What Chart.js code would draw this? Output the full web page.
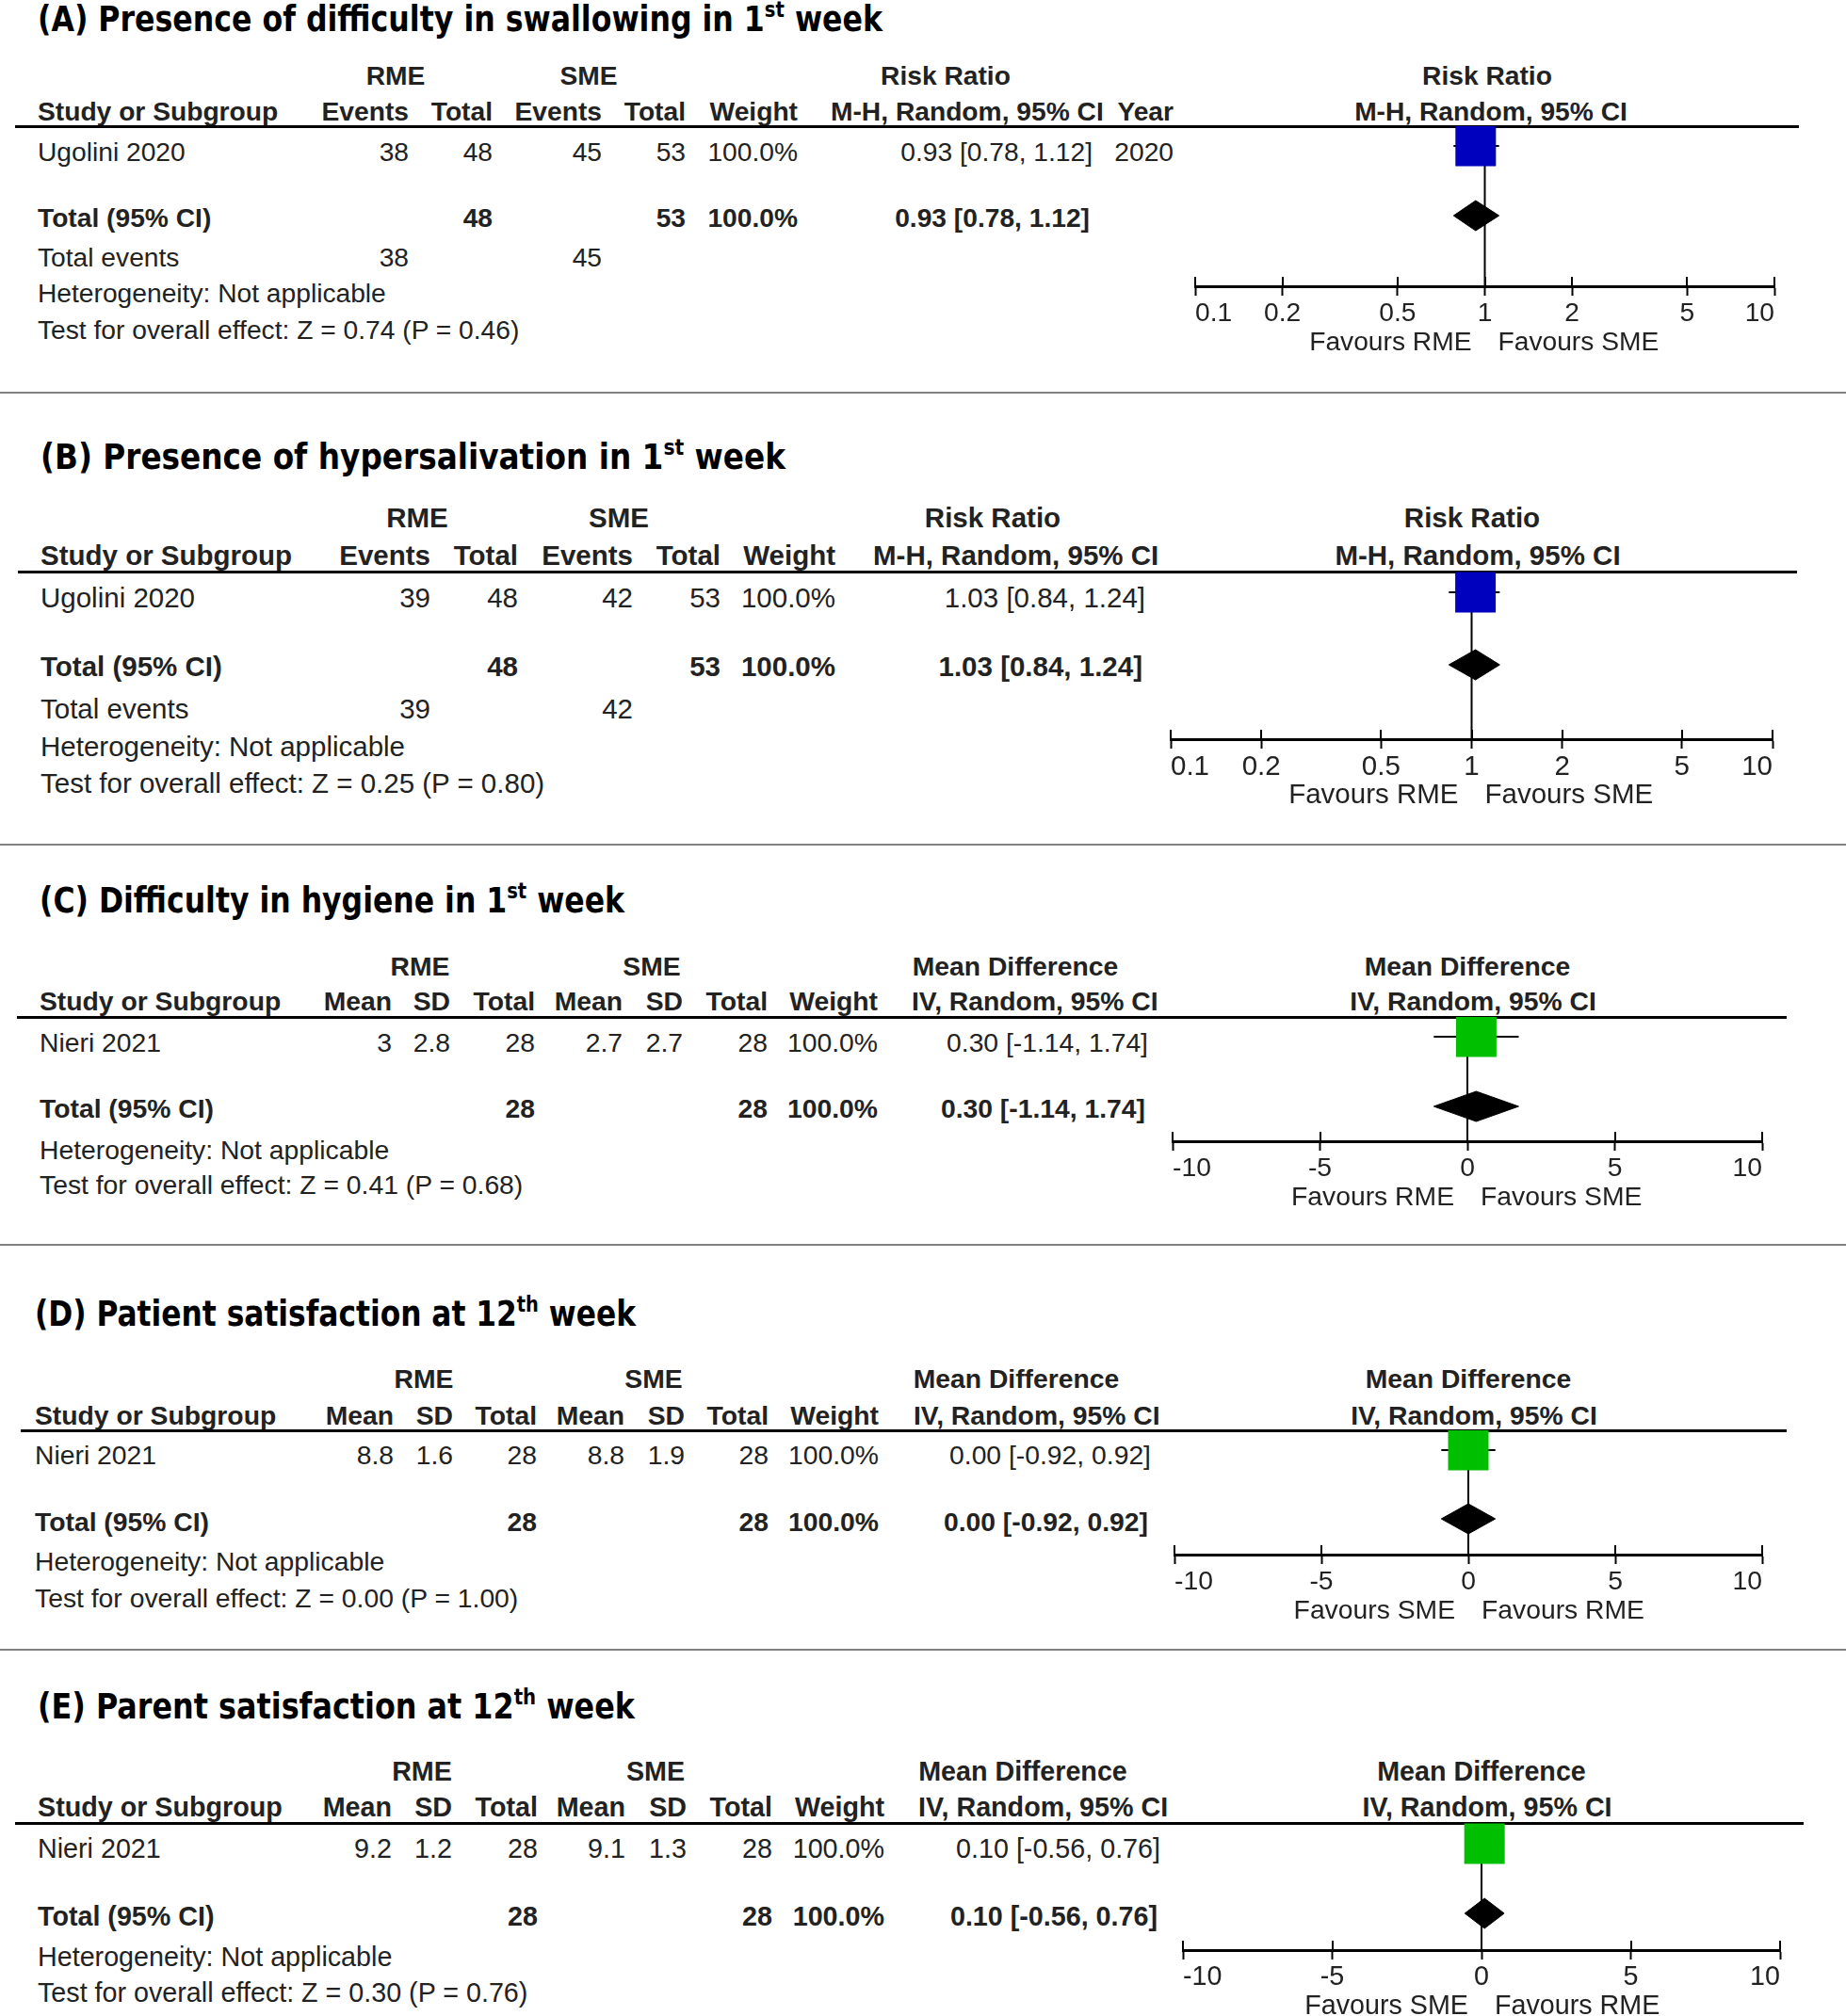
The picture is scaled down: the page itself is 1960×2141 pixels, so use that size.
<!DOCTYPE html>
<html>
<head>
<meta charset="utf-8">
<script src="https://cdn.jsdelivr.net/npm/chart.js@4.4.1/dist/chart.umd.min.js"></script>
<style>
html, body { margin: 0; padding: 0; background: #fff; }
#page { position: relative; width: 1960px; height: 2141px; overflow: hidden; font-family: "Liberation Sans", Arial, sans-serif; color: #222; }
.t { position: absolute; white-space: nowrap; height: 40px; line-height: 40px; }
.ttl { position: absolute; white-space: nowrap; height: 50px; line-height: 50px; font-family: "Liberation Sans Narrow", "DejaVu Sans Condensed", sans-serif; font-weight: bold; color: #000; transform-origin: 0 50%; }
.ttl sup { font-size: 62%; vertical-align: 0.65em; line-height: 0; }
.hl { position: absolute; height: 3px; background: #000; }
.sep { position: absolute; left: 0; width: 1960px; height: 2px; background: #808080; }
canvas { position: absolute; }
</style>
</head>
<body>
<div id="page"></div>
<script>
// titles: text, superscript, tail
const titleMain = ["(A) Presence of difficulty in swallowing in 1", "(B) Presence of hypersalivation in 1", "(C) Difficulty in hygiene in 1", "(D) Patient satisfaction at 12", "(E) Parent satisfaction at 12"];
const titleSup = ["st", "st", "st", "th", "th"];
const titleEnd = [" week", " week", " week", " week", " week"];

const studyNames = ["Ugolini 2020", "Ugolini 2020", "Nieri 2021", "Nieri 2021", "Nieri 2021"];
const studyYears = ["2020", "", "", "", ""];
const rmeValues = [["38", "48"], ["39", "48"], ["3", "2.8", "28"], ["8.8", "1.6", "28"], ["9.2", "1.2", "28"]];
const smeValues = [["45", "53"], ["42", "53"], ["2.7", "2.7", "28"], ["8.8", "1.9", "28"], ["9.1", "1.3", "28"]];
const weights = [100.0, 100.0, 100.0, 100.0, 100.0];
const totalRME = [48, 48, 28, 28, 28];
const totalSME = [53, 53, 28, 28, 28];
const eventsRME = [38, 39, null, null, null];
const eventsSME = [45, 42, null, null, null];
const estimates = [0.93, 1.03, 0.30, 0.00, 0.10];
const ciLow = [0.78, 0.84, -1.14, -0.92, -0.56];
const ciHigh = [1.12, 1.24, 1.74, 0.92, 0.76];
const heterogeneity = ["Not applicable", "Not applicable", "Not applicable", "Not applicable", "Not applicable"];
const overallTests = ["Z = 0.74 (P = 0.46)", "Z = 0.25 (P = 0.80)", "Z = 0.41 (P = 0.68)", "Z = 0.00 (P = 1.00)", "Z = 0.30 (P = 0.76)"];
const measures = ["Risk Ratio", "Risk Ratio", "Mean Difference", "Mean Difference", "Mean Difference"];
const methods = ["M-H, Random, 95% CI", "M-H, Random, 95% CI", "IV, Random, 95% CI", "IV, Random, 95% CI", "IV, Random, 95% CI"];
const favoursLeft = ["Favours RME", "Favours RME", "Favours RME", "Favours SME", "Favours SME"];
const favoursRight = ["Favours SME", "Favours SME", "Favours SME", "Favours RME", "Favours RME"];
const logTicks = [0.1, 0.2, 0.5, 1, 2, 5, 10];
const linTicks = [-10, -5, 0, 5, 10];
const dichHeads = ["Events", "Total", "Events", "Total", "Weight"];
const contHeads = ["Mean", "SD", "Total", "Mean", "SD", "Total", "Weight"];
const squareColors = ["#0000bf", "#0000bf", "#00bf00", "#00bf00", "#00bf00"];

// page layout (pixels)
const layout = [
  { fs: 28.2, tx: 40, ty: 21, tw: 897, h1: 80, h2: 118, line: 134, row: 161, tot: 231, ev: 273, het: 311, test: 350,
    lx1: 16, lx2: 1910, cols: [434, 523, 639, 728, 847], est: 1160, ciHead: 882, year: 1246,
    groups: [420, 625, 1004], rh: [1579, 1583], axL: 1269, axR: 1884, axis: 304, sq: 155, dia: 229, sep: 417 },
  { fs: 29.5, tx: 43, ty: 486, tw: 791, h1: 550, h2: 590, line: 607, row: 635, tot: 708, ev: 753, het: 793, test: 832,
    lx1: 19, lx2: 1908, cols: [457, 550, 672, 765, 887], est: 1216, ciHead: 927,
    groups: [443, 657, 1054], rh: [1563, 1569], axL: 1243, axR: 1882, axis: 785, sq: 629, dia: 706, sep: 897 },
  { fs: 28.3, tx: 42, ty: 957, tw: 621, h1: 1026, h2: 1063, line: 1080, row: 1107, tot: 1177, het: 1221, test: 1258,
    lx1: 18, lx2: 1897, cols: [416, 478, 568, 661, 725, 815, 932], est: 1219, ciHead: 968,
    groups: [446, 692, 1078], rh: [1558, 1564], axL: 1245, axR: 1871, axis: 1212, sq: 1101, dia: 1175, sep: 1322 },
  { fs: 28.3, tx: 37, ty: 1396, tw: 638, h1: 1464, h2: 1503, line: 1519, row: 1545, tot: 1616, het: 1658, test: 1697,
    lx1: 22, lx2: 1897, cols: [418, 481, 570, 663, 727, 816, 933], est: 1222, ciHead: 970,
    groups: [450, 694, 1079], rh: [1559, 1565], axL: 1247, axR: 1871, axis: 1651, sq: 1540, dia: 1613, sep: 1752 },
  { fs: 28.7, tx: 40, ty: 1813, tw: 634, h1: 1881, h2: 1919, line: 1936, row: 1963, tot: 2035, het: 2078, test: 2116,
    lx1: 16, lx2: 1915, cols: [416, 480, 571, 664, 729, 820, 939], est: 1232, ciHead: 975,
    groups: [448, 696, 1086], rh: [1573, 1579], axL: 1256, axR: 1890, axis: 2071, sq: 1958, dia: 2032 }
];

const page = document.getElementById("page");

function txt(str, x, cy, align, size, bold) {
  const d = document.createElement("div");
  d.className = "t";
  d.textContent = str;
  d.style.fontSize = size + "px";
  if (bold) d.style.fontWeight = "bold";
  d.style.top = (cy - 20) + "px";
  if (align === "l") d.style.left = x + "px";
  else if (align === "r") d.style.right = (1960 - x) + "px";
  else { d.style.left = (x - 300) + "px"; d.style.width = "600px"; d.style.textAlign = "center"; }
  page.appendChild(d);
}

const fmt = (v) => v.toFixed(2);
const ciText = (i) => `${fmt(estimates[i])} [${fmt(ciLow[i])}, ${fmt(ciHigh[i])}]`;

// extra tick halves above the axis and the favours labels
const forestExtras = {
  id: "forestExtras",
  afterDraw(chart, args, o) {
    const { ctx, chartArea } = chart;
    const x = chart.scales.x;
    ctx.save();
    ctx.strokeStyle = "#000";
    ctx.lineWidth = 2;
    x.ticks.forEach((t) => {
      const px = Math.round(x.getPixelForValue(t.value));
      ctx.beginPath();
      ctx.moveTo(px, chartArea.bottom - 10);
      ctx.lineTo(px, chartArea.bottom);
      ctx.stroke();
    });
    const n = x.getPixelForValue(o.nullValue);
    ctx.font = o.fs + 'px "Liberation Sans", Arial, sans-serif';
    ctx.fillStyle = "#222";
    ctx.textBaseline = "middle";
    ctx.textAlign = "right";
    ctx.fillText(o.left, n - 14, chartArea.bottom + 60);
    ctx.textAlign = "left";
    ctx.fillText(o.right, n + 14, chartArea.bottom + 60);
    ctx.restore();
  }
};

function drawPlot(i, L) {
  const isLog = i < 2;
  const pad = 60;
  const below = 90;
  const h = L.axis - L.line;
  const c = document.createElement("canvas");
  c.width = L.axR - L.axL + 2 * pad;
  c.height = h + below;
  c.style.left = (L.axL - pad) + "px";
  c.style.top = L.line + "px";
  page.appendChild(c);

  const nullValue = isLog ? 1 : 0;
  const ySq = L.sq - L.line;
  const yDia = L.dia - L.line;
  const dh = 16;
  const est = estimates[i], lo = ciLow[i], hi = ciHigh[i];

  new Chart(c, {
    type: "scatter",
    data: {
      datasets: [
        { data: [{ x: est, y: ySq }], pointStyle: "rect", pointRadius: 30.4, pointBackgroundColor: squareColors[i], pointBorderWidth: 0, order: 0 },
        { data: [{ x: lo, y: yDia }, { x: est, y: yDia - dh }, { x: hi, y: yDia }, { x: est, y: yDia + dh }, { x: lo, y: yDia }],
          showLine: true, fill: "shape", backgroundColor: "#000", borderColor: "#000", borderWidth: 1, pointRadius: 0, order: 1 },
        { data: [{ x: lo, y: ySq }, { x: hi, y: ySq }], showLine: true, borderColor: "#000", borderWidth: 2, pointRadius: 0, order: 2 },
        { data: [{ x: nullValue, y: 0 }, { x: nullValue, y: h }], showLine: true, borderColor: "#000", borderWidth: 2, pointRadius: 0, order: 3 }
      ]
    },
    options: {
      responsive: false,
      animation: false,
      events: [],
      layout: { autoPadding: false, padding: { left: pad, right: pad, top: 0, bottom: 0 } },
      plugins: {
        legend: { display: false },
        tooltip: { enabled: false },
        forestExtras: { nullValue: nullValue, left: favoursLeft[i], right: favoursRight[i], fs: L.fs }
      },
      scales: {
        x: {
          type: isLog ? "logarithmic" : "linear",
          min: isLog ? 0.1 : -10,
          max: 10,
          afterBuildTicks: (s) => { s.ticks = (isLog ? logTicks : linTicks).map((v) => ({ value: v })); },
          afterFit: (s) => { s.height = below; },
          ticks: { callback: (v) => String(v), align: "inner", font: { family: "Liberation Sans", size: L.fs }, color: "#222", padding: 2, maxRotation: 0, autoSkip: false },
          grid: { drawOnChartArea: false, drawTicks: true, tickLength: 10, tickWidth: 2, color: "#000" },
          border: { display: true, width: 3, color: "#000" }
        },
        y: { type: "linear", display: false, min: 0, max: h, reverse: true }
      }
    },
    plugins: [forestExtras]
  });
}

layout.forEach((L, i) => {
  const fs = L.fs;
  const dich = i < 2;

  // title
  const t = document.createElement("div");
  t.className = "ttl";
  t.style.left = L.tx + "px";
  t.style.top = (L.ty - 25) + "px";
  t.style.fontSize = "37px";
  t.appendChild(document.createTextNode(titleMain[i]));
  const s = document.createElement("sup");
  s.textContent = titleSup[i];
  t.appendChild(s);
  t.appendChild(document.createTextNode(titleEnd[i]));
  page.appendChild(t);
  const w = t.getBoundingClientRect().width;
  t.style.transform = `scaleX(${L.tw / w})`;

  // header rows
  txt("RME", L.groups[0], L.h1, "c", fs, true);
  txt("SME", L.groups[1], L.h1, "c", fs, true);
  txt(measures[i], L.groups[2], L.h1, "c", fs, true);
  txt(measures[i], L.rh[0], L.h1, "c", fs, true);
  txt("Study or Subgroup", L.tx, L.h2, "l", fs, true);
  const heads = dich ? dichHeads : contHeads;
  heads.forEach((hd, k) => txt(hd, L.cols[k], L.h2, "r", fs, true));
  txt(methods[i], L.ciHead, L.h2, "l", fs, true);
  if (L.year) txt("Year", L.year, L.h2, "r", fs, true);
  txt(methods[i], L.rh[1], L.h2, "c", fs, true);

  const hl = document.createElement("div");
  hl.className = "hl";
  hl.style.left = L.lx1 + "px";
  hl.style.width = (L.lx2 - L.lx1) + "px";
  hl.style.top = (L.line - 1) + "px";
  page.appendChild(hl);

  // study row
  txt(studyNames[i], L.tx, L.row, "l", fs, false);
  const cells = rmeValues[i].concat(smeValues[i]).concat([weights[i].toFixed(1) + "%"]);
  cells.forEach((v, k) => txt(v, L.cols[k], L.row, "r", fs, false));
  txt(ciText(i), L.est, L.row, "r", fs, false);
  if (L.year) txt(studyYears[i], L.year, L.row, "r", fs, false);

  // total row
  const idx = dich ? [1, 3, 4] : [2, 5, 6];
  txt("Total (95% CI)", L.tx, L.tot, "l", fs, true);
  txt(String(totalRME[i]), L.cols[idx[0]], L.tot, "r", fs, true);
  txt(String(totalSME[i]), L.cols[idx[1]], L.tot, "r", fs, true);
  txt(weights[i].toFixed(1) + "%", L.cols[idx[2]], L.tot, "r", fs, true);
  txt(ciText(i), L.est - 3, L.tot, "r", fs, true);

  if (eventsRME[i] !== null) {
    txt("Total events", L.tx, L.ev, "l", fs, false);
    txt(String(eventsRME[i]), L.cols[0], L.ev, "r", fs, false);
    txt(String(eventsSME[i]), L.cols[2], L.ev, "r", fs, false);
  }
  txt("Heterogeneity: " + heterogeneity[i], L.tx, L.het, "l", fs, false);
  txt("Test for overall effect: " + overallTests[i], L.tx, L.test, "l", fs, false);

  if (L.sep) {
    const sp = document.createElement("div");
    sp.className = "sep";
    sp.style.top = (L.sep - 1) + "px";
    page.appendChild(sp);
  }

  drawPlot(i, L);
});
</script>
</body>
</html>
